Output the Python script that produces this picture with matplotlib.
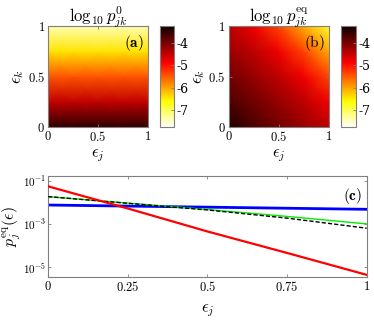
import numpy as np
import matplotlib
matplotlib.use("Agg")
import matplotlib.pyplot as plt

plt.rcParams['mathtext.fontset'] = 'cm'
plt.rcParams['font.family'] = 'serif'
plt.rcParams['font.serif'] = ['DejaVu Serif']

# ---- data ----
grid_pts = [0, 0.25, 0.5, 0.75, 1.0]
# panel (a): log10 p0 along eps_k (same for every eps_j)
p0_vs_k = [-3.5, -4.47, -5.45, -6.42, -7.4]
# panel (b): log10 peq, rows = eps_k, cols = eps_j
peq_grid = [
    [-3.40, -3.70, -3.95, -4.20, -4.45],
    [-3.70, -3.95, -4.20, -4.45, -4.80],
    [-3.95, -4.20, -4.45, -4.80, -5.35],
    [-4.20, -4.45, -4.80, -5.35, -6.05],
    [-4.45, -4.80, -5.35, -6.05, -6.80],
]
vmin, vmax = -7.75, -3.25
cbar_ticks = [-4, -5, -6, -7]
cbar_labels = ['-4', '-5', '-6', '-7']

# panel (c): log10 p_j^eq at eps_j = eps_c
eps_c = [0, 0.25, 0.5, 0.75, 1.0]
red_log = [-1.25, -2.28, -3.35, -4.35, -5.37]
blue_log = [-2.12, -2.17, -2.22, -2.27, -2.32]
green_log = [-1.73, -2.03, -2.33, -2.65, -3.0]
black_log = [-1.73, -2.04, -2.35, -2.73, -3.2]
xticks_c = [0, 0.25, 0.5, 0.75, 1]
xticklabels_c = ['$0$', '$0.25$', '$0.5$', '$0.75$', '$1$']
yticks_c = [1e-1, 1e-3, 1e-5]
yticklabels_c = ['$10^{-1}$', '$10^{-3}$', '$10^{-5}$']

W, H = 374, 323
fig = plt.figure(figsize=(W/100, H/100), dpi=100)

def px(l, t, r, b):
    return [l/W, 1-b/H, (r-l)/W, (b-t)/H]

spine_col = '#7f7f7f'

def style(ax):
    for s in ax.spines.values():
        s.set_color(spine_col)
        s.set_linewidth(0.8)
    ax.tick_params(direction='in', top=True, right=True, length=2.5, width=0.6,
                   color=spine_col, labelsize=9, pad=2)

cmap = plt.get_cmap('hot_r')
X, Y = np.meshgrid(grid_pts, grid_pts)

# panel (a)
axa = fig.add_axes(px(48, 26, 148, 127))
Za = np.array([[v]*len(grid_pts) for v in p0_vs_k])
ma = axa.pcolormesh(X, Y, Za, shading='gouraud', cmap=cmap, vmin=vmin, vmax=vmax)
axa.set_xlim(0, 1); axa.set_ylim(0, 1)
style(axa)
axa.set_xticks([0, 0.5, 1]); axa.set_xticklabels(['$0$', '$0.5$', '$1$'])
axa.set_yticks([0, 0.5, 1]); axa.set_yticklabels(['$0$', '$0.5$', '$1$'])
axa.set_xlabel(r'$\epsilon_j$', fontsize=12, labelpad=2)
axa.set_ylabel(r'$\epsilon_k$', fontsize=12, labelpad=1)
axa.set_title(r'$\log_{10} p^{0}_{jk}$', fontsize=12, pad=3)
axa.text(0.96, 0.93, r'$\mathbf{(a)}$', transform=axa.transAxes, ha='right', va='top', fontsize=11)

caxa = fig.add_axes(px(159.5, 26, 174, 127.3))
cba = fig.colorbar(ma, cax=caxa)
cba.set_ticks(cbar_ticks); cba.set_ticklabels(cbar_labels)
cba.outline.set_edgecolor(spine_col); cba.outline.set_linewidth(0.8)
caxa.tick_params(direction='in', length=2.5, width=0.6, color=spine_col, labelsize=9, pad=2)

# panel (b)
axb = fig.add_axes(px(228.5, 26, 329, 127))
mb = axb.pcolormesh(X, Y, np.array(peq_grid), shading='gouraud', cmap=cmap, vmin=vmin, vmax=vmax)
axb.set_xlim(0, 1); axb.set_ylim(0, 1)
style(axb)
axb.set_xticks([0, 0.5, 1]); axb.set_xticklabels(['$0$', '$0.5$', '$1$'])
axb.set_yticks([0, 0.5, 1]); axb.set_yticklabels(['$0$', '$0.5$', '$1$'])
axb.set_xlabel(r'$\epsilon_j$', fontsize=12, labelpad=2)
axb.set_ylabel(r'$\epsilon_k$', fontsize=12, labelpad=1)
axb.set_title(r'$\log_{10} p^{\rm eq}_{jk}$', fontsize=12, pad=3)
axb.text(0.96, 0.93, r'$\rm (b)$', transform=axb.transAxes, ha='right', va='top', fontsize=11)

caxb = fig.add_axes(px(340.7, 26, 355.7, 127.3))
cbb = fig.colorbar(mb, cax=caxb)
cbb.set_ticks(cbar_ticks); cbb.set_ticklabels(cbar_labels)
cbb.outline.set_edgecolor(spine_col); cbb.outline.set_linewidth(0.8)
caxb.tick_params(direction='in', length=2.5, width=0.6, color=spine_col, labelsize=9, pad=2)

# panel (c)
axc = fig.add_axes(px(48, 176, 366.7, 277))
to_lin = lambda a: 10.0**np.array(a)
axc.plot(eps_c, to_lin(blue_log), color='#0000ff', lw=2.0, zorder=2)
axc.plot(eps_c, to_lin(green_log), color='#00ee00', lw=1.0, zorder=3)
axc.plot(eps_c, to_lin(black_log), color='black', lw=1.0, ls=(0, (3, 1.5)), zorder=4)
axc.plot(eps_c, to_lin(red_log), color='#ff0000', lw=1.6, zorder=5)
axc.set_yscale('log')
axc.set_xlim(0, 1)
axc.set_ylim(10**-5.47, 10**-0.77)
style(axc)
axc.tick_params(axis='y', labelsize=8, pad=1.5)
axc.set_xticks(xticks_c); axc.set_xticklabels(xticklabels_c)
axc.set_yticks(yticks_c); axc.set_yticklabels(yticklabels_c)
axc.minorticks_off()
axc.set_xlabel(r'$\epsilon_j$', fontsize=12, labelpad=6)
fig.text(12/W, 1-227/H, r'$p_j^{\rm eq}(\epsilon)$', fontsize=11.5, rotation=90,
         ha='center', va='center')
axc.text(0.985, 0.9, r'$\mathbf{(c)}$', transform=axc.transAxes, ha='right', va='top', fontsize=11)

fig.savefig('out.png', dpi=100)
